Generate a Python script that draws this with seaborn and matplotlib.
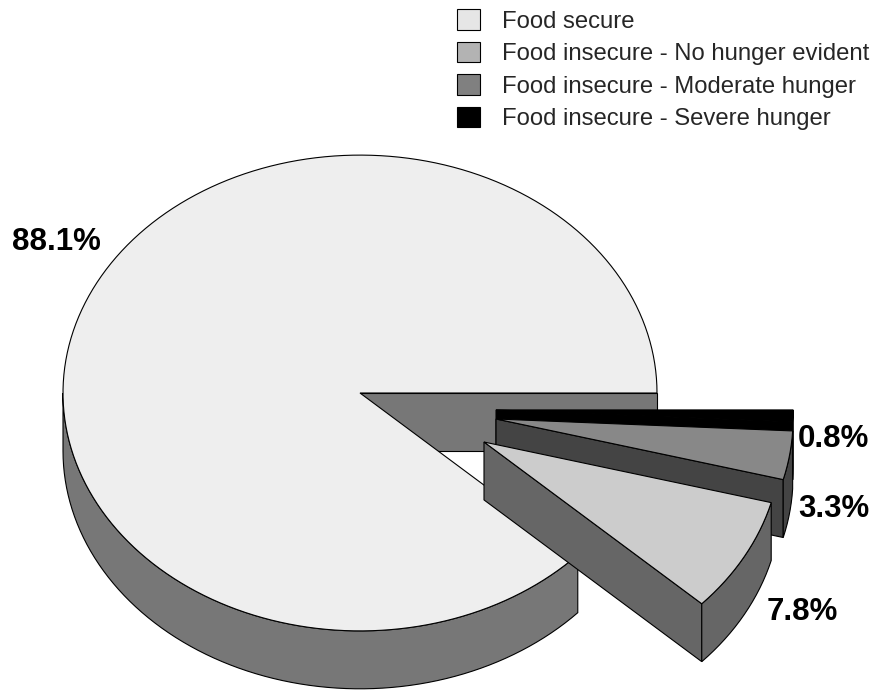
import numpy as np
import matplotlib
matplotlib.use("Agg")
import matplotlib.pyplot as plt
from matplotlib.patches import Polygon, Patch
import seaborn as sns

# ---- data ----
categories = ["Food secure",
              "Food insecure - No hunger evident",
              "Food insecure - Moderate hunger",
              "Food insecure - Severe hunger"]
percent = [88.1, 7.8, 3.3, 0.8]
pct_labels = ["88.1%", "7.8%", "3.3%", "0.8%"]

# ---- style ----
top_colors = ["#eeeeee", "#cccccc", "#888888", "#000000"]
side_colors = ["#777777", "#666666", "#444444", "#000000"]
legend_colors = ["#e6e6e6", "#b3b3b3", "#808080", "#000000"]
explode = [(0.0, 0.0), (0.4175, -0.165), (0.458, -0.0875), (0.458, -0.057)]
label_pos = [(-1.172, 0.4815), (1.370, -0.764), (1.475, -0.4175), (1.475, -0.1818)]
RY = 0.801
DEPTH = 0.195
draw_order = [0, 3, 2, 1]

sns.set_theme(style="white")
plt.rcParams["font.family"] = ["Liberation Sans", "DejaVu Sans"]

fig = plt.figure(figsize=(8.74, 6.9), dpi=100)
ax = fig.add_axes([0, 0, 1, 1])
ax.set_xlim(-360 / 297, 514 / 297)
ax.set_ylim((393 - 690) / 297, 393 / 297)
ax.axis("off")

vals = np.array(percent, dtype=float)
cum = np.concatenate([[0], np.cumsum(vals)]) / vals.sum() * 2 * np.pi
EC = "black"
LW = 0.8


def arc(cx, cy, t1, t2, dz=0.0, n=200):
    t = np.linspace(t1, t2, max(2, int(n * (t2 - t1) / (2 * np.pi)) + 2))
    return np.column_stack([cx + np.cos(t), cy + RY * np.sin(t) - dz])


z = 1
for i in draw_order:
    a1, a2 = cum[i], cum[i + 1]
    cx, cy = explode[i]
    # radial walls
    if np.cos(a1) > 0:
        p = [(cx, cy), (cx + np.cos(a1), cy + RY * np.sin(a1)),
             (cx + np.cos(a1), cy + RY * np.sin(a1) - DEPTH), (cx, cy - DEPTH)]
        ax.add_patch(Polygon(p, closed=True, fc=side_colors[i], ec=EC, lw=LW, zorder=z)); z += 1
    if np.cos(a2) < 0:
        p = [(cx, cy), (cx + np.cos(a2), cy + RY * np.sin(a2)),
             (cx + np.cos(a2), cy + RY * np.sin(a2) - DEPTH), (cx, cy - DEPTH)]
        ax.add_patch(Polygon(p, closed=True, fc=side_colors[i], ec=EC, lw=LW, zorder=z)); z += 1
    # outer wall (visible front half)
    lo, hi = max(a1, np.pi), min(a2, 2 * np.pi)
    if hi > lo:
        top = arc(cx, cy, lo, hi)
        bot = arc(cx, cy, lo, hi, dz=DEPTH)[::-1]
        ax.add_patch(Polygon(np.vstack([top, bot]), closed=True, fc=side_colors[i],
                             ec=EC, lw=LW, zorder=z)); z += 1
    # top face
    pts = np.vstack([[cx, cy], arc(cx, cy, a1, a2)])
    ax.add_patch(Polygon(pts, closed=True, fc=top_colors[i], ec=EC, lw=LW,
                         joinstyle="miter", zorder=z)); z += 1

for lab, (x, y) in zip(pct_labels, label_pos):
    ax.text(x, y, lab, ha="left", va="baseline", fontsize=22.5,
            fontweight="bold", color="black", zorder=z)

handles = [Patch(facecolor=c, edgecolor="black", linewidth=0.8) for c in legend_colors]
fig.legend(handles, categories, loc="upper left", bbox_to_anchor=(457 / 874, 1 - 9 / 690),
           frameon=False, fontsize=17.2, handlelength=0.95, handleheight=0.95,
           handletextpad=0.95, labelspacing=0.38, borderpad=0, borderaxespad=0)

fig.savefig("out.png", dpi=100)
